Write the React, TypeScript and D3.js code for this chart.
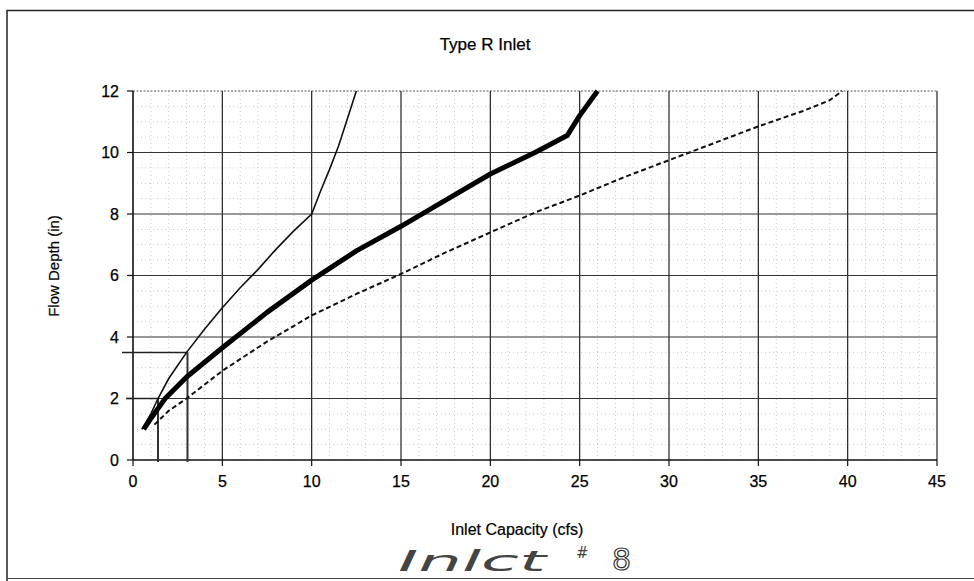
import React from "react";
import * as d3 from "d3";

const title = "Type R Inlet";
const xLabel = "Inlet Capacity (cfs)";
const yLabel = "Flow Depth (in)";
const xTicks = [0, 5, 10, 15, 20, 25, 30, 35, 40, 45];
const yTicks = [0, 2, 4, 6, 8, 10, 12];

// thin solid curve
const thinQ = [0.5, 1.0, 1.4, 2.0, 3.0, 4.0, 5.0, 6.0, 7.0, 8.0, 9.0, 10.0, 10.5, 11.0, 11.5, 12.0, 12.5];
const thinD = [1.0, 1.5, 2.0, 2.65, 3.5, 4.25, 4.95, 5.6, 6.2, 6.85, 7.45, 8.0, 8.75, 9.45, 10.2, 11.1, 12.0];

// thick solid curve
const thickQ = [0.6, 1.0, 1.8, 3.0, 5.0, 7.5, 10.0, 12.5, 15.0, 17.5, 20.0, 22.5, 24.3, 25.0, 26.0];
const thickD = [1.0, 1.35, 2.0, 2.7, 3.65, 4.8, 5.85, 6.8, 7.6, 8.45, 9.3, 10.0, 10.55, 11.2, 12.0];

// dashed curve
const dashQ = [1.2, 2.0, 3.0, 5.0, 7.5, 10.0, 12.5, 15.0, 17.5, 20.0, 22.5, 25.0, 27.5, 30.0, 32.5, 35.0, 37.5, 39.0, 39.7];
const dashD = [1.15, 1.6, 2.0, 2.9, 3.85, 4.7, 5.4, 6.05, 6.75, 7.4, 8.05, 8.6, 9.2, 9.75, 10.3, 10.85, 11.35, 11.7, 12.0];

// reference (read-off) lines
const refQ = [3.05, 1.4];
const refD = [3.5, 2.0];

const handNote = "Inlct";
const handNum = "8";

export default function App() {
  const W = 974, H = 581;
  const x = d3.scaleLinear().domain([0, 45]).range([133, 937]);
  const y = d3.scaleLinear().domain([0, 12]).range([460, 91]);
  const line = d3.line<[number, number]>().x(d => x(d[0])).y(d => y(d[1]));
  const zip = (a: number[], b: number[]) => a.map((v, i) => [v, b[i]] as [number, number]);

  const minorX = d3.range(1, 45).filter(v => v % 5 !== 0);
  const minorY = d3.range(0.5, 12, 0.5).filter(v => v % 2 !== 0);

  return (
    <svg width={W} height={H} style={{ position: "absolute", left: 0, top: 0, background: "#fff" }}
      fontFamily="Liberation Sans, Arial, sans-serif">
      <rect x={0} y={0} width={W} height={H} fill="#fff" />
      {/* outer frame */}
      <path d={`M7,${H} L7,10.5 L${W},10.5`} fill="none" stroke="#222" strokeWidth={1.5} />
      <line x1={7} x2={W} y1={578.5} y2={578.5} stroke="#444" strokeWidth={1.2} />

      {/* minor grid */}
      {minorX.map(v => (
        <line key={"mx" + v} x1={x(v)} x2={x(v)} y1={y(12)} y2={y(0)} stroke="#b4b4b4" strokeWidth={0.7} strokeDasharray="1,3" />
      ))}
      {minorY.map(v => (
        <line key={"my" + v} x1={x(0)} x2={x(45)} y1={y(v)} y2={y(v)} stroke="#b4b4b4" strokeWidth={0.7} strokeDasharray="1,3" />
      ))}
      {/* top/right border of plot (dotted) */}
      <line x1={x(0)} x2={x(45)} y1={y(12)} y2={y(12)} stroke="#555" strokeWidth={1} strokeDasharray="2,1.5" />
      {/* major grid */}
      {xTicks.filter(v => v > 0).map(v => (
        <line key={"gx" + v} x1={x(v)} x2={x(v)} y1={y(12)} y2={y(0)} stroke="#222" strokeWidth={1.2} />
      ))}
      {yTicks.filter(v => v > 0 && v < 12).map(v => (
        <line key={"gy" + v} x1={x(0)} x2={x(45)} y1={y(v)} y2={y(v)} stroke="#333" strokeWidth={1.1} />
      ))}

      {/* axes */}
      <line x1={x(0)} x2={x(0)} y1={y(12)} y2={y(0)} stroke="#111" strokeWidth={1.6} />
      <line x1={x(0)} x2={x(45)} y1={y(0)} y2={y(0)} stroke="#111" strokeWidth={1.6} />
      {yTicks.map(v => (
        <g key={"yt" + v}>
          <line x1={x(0) - 6} x2={x(0)} y1={y(v)} y2={y(v)} stroke="#111" strokeWidth={1.2} />
          <text x={119} y={y(v)} dy="0.36em" textAnchor="end" fontSize={16} fill="#000" stroke="#000" strokeWidth={0.25}>{v}</text>
        </g>
      ))}
      {xTicks.map(v => (
        <g key={"xt" + v}>
          <line x1={x(v)} x2={x(v)} y1={y(0)} y2={y(0) + 6} stroke="#111" strokeWidth={1.2} />
          <text x={x(v)} y={487} textAnchor="middle" fontSize={16} fill="#000" stroke="#000" strokeWidth={0.25}>{v}</text>
        </g>
      ))}

      {/* reference lines */}
      <line x1={x(0) - 11} x2={x(refQ[0])} y1={y(refD[0])} y2={y(refD[0])} stroke="#222" strokeWidth={1.5} />
      <line x1={x(refQ[0])} x2={x(refQ[0])} y1={y(refD[0])} y2={y(0) + 2} stroke="#333" strokeWidth={2} />
      <line x1={x(refQ[1])} x2={x(refQ[1])} y1={y(refD[1])} y2={y(0) + 2} stroke="#333" strokeWidth={2} />
      <line x1={x(0) - 7} x2={x(refQ[1])} y1={y(refD[1])} y2={y(refD[1])} stroke="#222" strokeWidth={1.5} />

      {/* curves */}
      <path d={line(zip(dashQ, dashD)) || ""} fill="none" stroke="#111" strokeWidth={2} strokeDasharray="5,3" />
      <path d={line(zip(thinQ, thinD)) || ""} fill="none" stroke="#111" strokeWidth={1.6} />
      <path d={line(zip(thickQ, thickD)) || ""} fill="none" stroke="#000" strokeWidth={5} strokeLinejoin="round" />

      {/* titles */}
      <text x={485} y={50} textAnchor="middle" fontSize={17} fill="#000" stroke="#000" strokeWidth={0.25}>{title}</text>
      <text x={517} y={535} textAnchor="middle" fontSize={16} fill="#000" stroke="#000" strokeWidth={0.2}>{xLabel}</text>
      <text transform={`translate(59,266) rotate(-90)`} textAnchor="middle" fontSize={15} fill="#000" stroke="#000" strokeWidth={0.2}>{yLabel}</text>

      {/* handwritten note */}
      <text x={398} y={571} fontSize={28} fontStyle="italic" fill="#444" fontWeight={300}
        fontFamily="DejaVu Sans, sans-serif" textLength={148} lengthAdjust="spacingAndGlyphs">{handNote}</text>
      <text x={576} y={558} fontSize={15} fill="#444" fontFamily="DejaVu Sans, sans-serif">#</text>
      <text x={612} y={570} fontSize={30} fill="none" stroke="#333" strokeWidth={1.2} fontFamily="DejaVu Sans, sans-serif">{handNum}</text>
    </svg>
  );
}
